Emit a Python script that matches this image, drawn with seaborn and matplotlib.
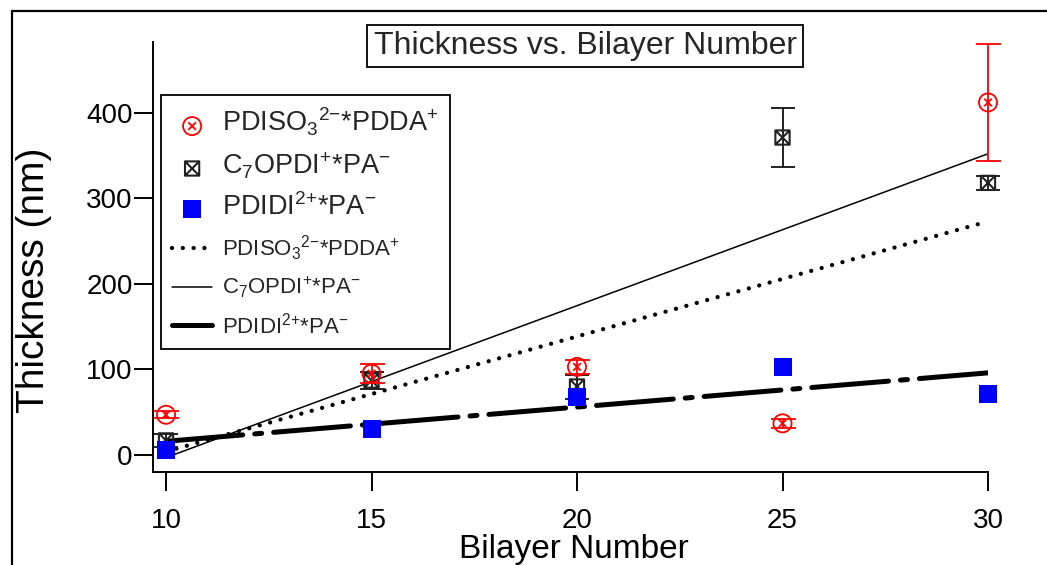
import numpy as np
import pandas as pd
import matplotlib
matplotlib.use("Agg")
import matplotlib.pyplot as plt
import seaborn as sns
from matplotlib.path import Path
from matplotlib.patches import Rectangle

# ---------------- data ----------------
bilayers = [10, 15, 20, 25, 30]
pdiso_thk = [47, 95, 103, 37, 412]
pdiso_err = [4, 11, 8, 5, 68]
c7opdi_thk = [17, 87, 80, 371, 318]
c7opdi_err = [8, 10, 14, 34, 8]
pdidi_thk = [6, 30, 68, 103, 71]

fit_x = [10, 30]
pdiso_fit = [4, 273]
c7opdi_fit = [-3, 352]
pdidi_fit = [16, 96]

x_ticks = [10, 15, 20, 25, 30]
y_ticks = [0, 100, 200, 300, 400]

title = "Thickness vs. Bilayer Number"
xlabel = "Bilayer Number"
ylabel = "Thickness (nm)"
label_pdiso = r"PDISO$_3$$^{2{-}}$*PDDA$^{+}$"
label_c7 = r"C$_7$OPDI$^{+}$*PA$^{-}$"
label_pdidi = r"PDIDI$^{2{+}}$*PA$^{-}$"

# ---------------- style ----------------
sns.set_style("ticks")
plt.rcParams["font.family"] = ["Liberation Sans", "DejaVu Sans"]
plt.rcParams["mathtext.default"] = "regular"

W, H = 1047, 565
fig = plt.figure(figsize=(W / 100, H / 100), dpi=100)
left, right, bottom, top = 152.7, 988.0, 471.5, 41.7
ax = fig.add_axes([left / W, 1 - bottom / H, (right - left) / W, (bottom - top) / H])

# custom markers
circ_x = Path.make_compound_path(
    Path.unit_circle(),
    Path([(-0.42, -0.42), (0.42, 0.42), (-0.42, 0.42), (0.42, -0.42)],
         [Path.MOVETO, Path.LINETO, Path.MOVETO, Path.LINETO]))
sq_x = Path([(-1, -1), (1, -1), (1, 1), (-1, 1), (-1, -1),
             (-1, -1), (1, 1), (-1, 1), (1, -1)],
            [Path.MOVETO, Path.LINETO, Path.LINETO, Path.LINETO, Path.CLOSEPOLY,
             Path.MOVETO, Path.LINETO, Path.MOVETO, Path.LINETO])

# ---------------- fit lines ----------------
sns.lineplot(x=fit_x, y=pdiso_fit, ax=ax, color="black", linewidth=3.1, zorder=2)
l_dot = ax.get_lines()[-1]
l_dot.set_dashes([0.01, 2.5])
l_dot.set_dash_capstyle("round")

sns.lineplot(x=fit_x, y=c7opdi_fit, ax=ax, color="black", linewidth=1.1, zorder=2)
l_solid = ax.get_lines()[-1]

sns.lineplot(x=fit_x, y=pdidi_fit, ax=ax, color="black", linewidth=3.6, zorder=2)
l_dash = ax.get_lines()[-1]
l_dash.set_dashes([15.4, 2.4, 1.4, 2.4])
l_dash.set_dash_capstyle("round")
l_dash.set_solid_capstyle("round")

# ---------------- points ----------------
ax.errorbar(bilayers, c7opdi_thk, yerr=c7opdi_err, fmt="none", ecolor="#222222",
            elinewidth=1.4, capsize=8.5, capthick=1.4, zorder=3, clip_on=False)
sns.scatterplot(x=bilayers, y=c7opdi_thk, ax=ax, marker=sq_x, s=105,
                color="#222222", linewidth=1.5, zorder=3, clip_on=False)
c_black = ax.collections[-1]
c_black.set_facecolor("none")
c_black.set_edgecolor("#222222")

sns.scatterplot(x=bilayers, y=pdidi_thk, ax=ax, marker="s", s=155,
                color="#0000ff", linewidth=0, zorder=4, clip_on=False)
c_blue = ax.collections[-1]
c_blue.set_facecolor("#0000ff")
c_blue.set_edgecolor("#0000ff")

ax.errorbar(bilayers, pdiso_thk, yerr=pdiso_err, fmt="none", ecolor="#ff0000",
            elinewidth=1.3, capsize=9, capthick=1.3, zorder=5, clip_on=False)
sns.scatterplot(x=bilayers, y=pdiso_thk, ax=ax, marker=circ_x, s=170,
                color="#ff0000", linewidth=1.3, zorder=5, clip_on=False)
c_red = ax.collections[-1]
c_red.set_facecolor("none")
c_red.set_edgecolor("#ff0000")

# ---------------- axes ----------------
ax.set_xlim(9.676, 30)
ax.set_ylim(-19.3, 483)
ax.set_xticks(x_ticks)
ax.set_yticks(y_ticks)
for s in ["top", "right"]:
    ax.spines[s].set_visible(False)
for s in ["left", "bottom"]:
    ax.spines[s].set_linewidth(1.4)
    ax.spines[s].set_color("black")
ax.tick_params(axis="both", direction="out", length=13.5, width=1.4,
               colors="black", labelsize=20)
ax.tick_params(axis="y", pad=1)
ax.tick_params(axis="x", pad=13)
ax.grid(False)

ax.set_xlabel(xlabel, fontsize=24, color="black")
ax.set_ylabel(ylabel, fontsize=28, color="black")
ax.xaxis.set_label_coords(0.504, -0.145)
ax.yaxis.set_label_coords(-0.1206, 0.4455)

# ---------------- legend ----------------
handles = [c_red, c_black, c_blue, l_dot, l_solid, l_dash]
labels = [label_pdiso, label_c7, label_pdidi, label_pdiso, label_c7, label_pdidi]
leg = ax.legend(handles, labels, loc="upper left",
                bbox_to_anchor=(161 / W, 1 - 95 / H), bbox_transform=fig.transFigure,
                frameon=True, fancybox=False, edgecolor="black", framealpha=1,
                fontsize=16, handlelength=1.8, borderaxespad=0, labelspacing=0.55,
                borderpad=0.5, handletextpad=0.45, scatterpoints=1)
leg.get_frame().set_linewidth(1.3)
for t in leg.get_texts()[:3]:
    t.set_fontsize(19.5)

# ---------------- title box ----------------
fig.text(585 / W, 1 - 46 / H, title, ha="center", va="center", fontsize=23,
         bbox=dict(boxstyle="square,pad=0.2", fc="white", ec="black", lw=1.3))

# outer frame
fig.add_artist(Rectangle((11.5 / W, -0.1), 2, 0.1 + 1 - 10.5 / H,
                         transform=fig.transFigure, fill=False,
                         edgecolor="black", linewidth=1.6))

fig.savefig("out.png", dpi=100)
